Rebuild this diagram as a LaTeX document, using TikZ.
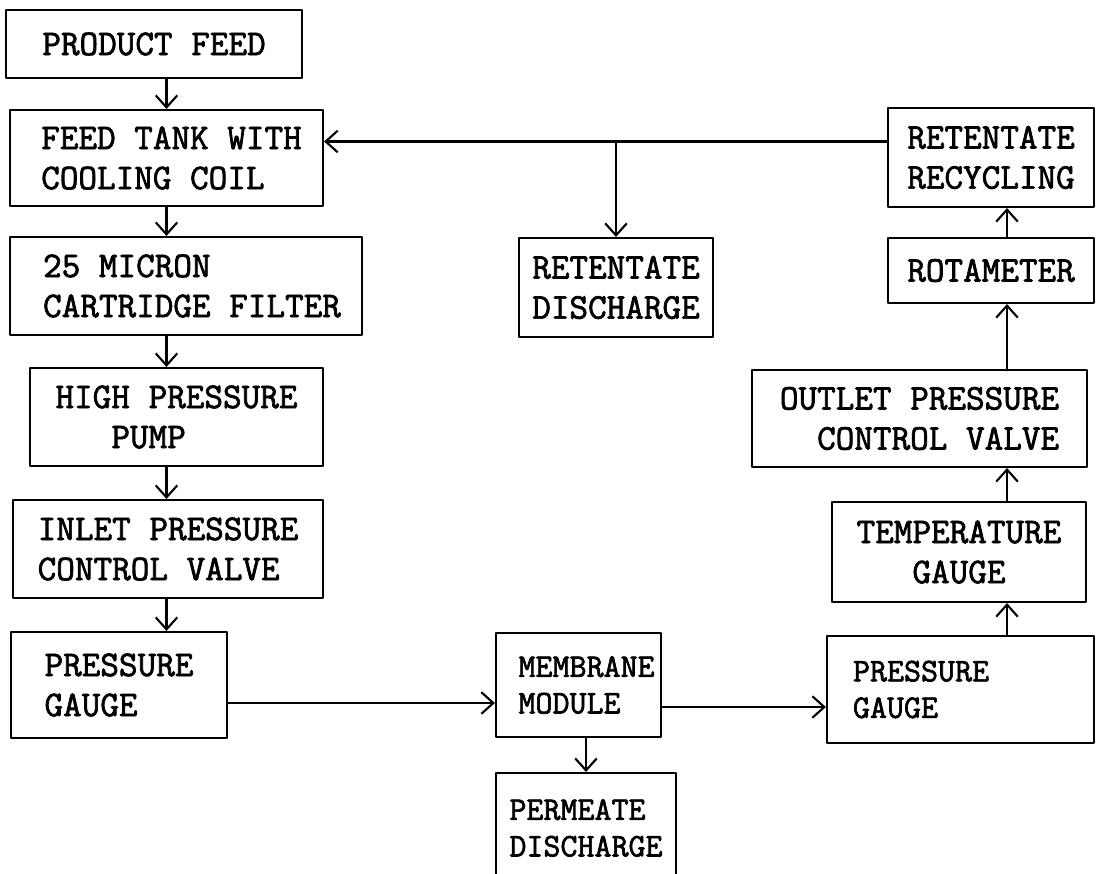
\documentclass[tikz,border=0pt]{standalone}
\usepackage{fontspec}
\newfontfamily\typewr[FakeBold=2]{Latin Modern Mono}
\usetikzlibrary{arrows.meta}
\begin{document}
\begin{tikzpicture}[x=0.025cm, y=-0.025cm, >={Straight Barb[length=3mm,width=5.4mm]},
    line join=round, line cap=round,
    box/.style={draw, line width=1.5pt, inner sep=0pt,
        font=\typewr\fontsize{25.7}{28.5}\selectfont},
    smallbox/.style={box, font=\typewr\fontsize{23.5}{26}\selectfont},
    flow/.style={->, line width=1.5pt}]
    \clip (0,0) rectangle (1096,873);
    % left column
    \node[box, minimum width=7.4cm, minimum height=1.7cm] (feed) at (154,44) {PRODUCT FEED};
    \node[box, align=left, minimum width=7.825cm, minimum height=2.4cm] (tank) at (166.5,158) {\hspace*{0.25cm}FEED TANK WITH\\\hspace*{0.25cm}COOLING COIL};
    \node[box, align=left, minimum width=8.8cm, minimum height=2.45cm] (filter) at (186,286) {\hspace*{0.3cm}25 MICRON\\\hspace*{0.3cm}CARTRIDGE FILTER};
    \node[box, align=left, minimum width=7.325cm, minimum height=2.45cm] (pump) at (176.5,417) {HIGH PRESSURE\\\phantom{HIG}PUMP};
    \node[box, align=left, minimum width=7.75cm, minimum height=2.45cm] (inlet) at (168,549) {INLET PRESSURE\\CONTROL VALVE};
    \node[box, align=left, minimum width=5.4cm, minimum height=2.65cm] (gaugeA) at (119,685) {PRESSURE\\GAUGE};
    % middle
    \node[smallbox, align=left, text width=3cm, minimum width=4.125cm, minimum height=2.6cm] (module) at (578.5,685) {MEMBRANE\\MODULE};
    \node[smallbox, align=left, minimum width=4.5cm, minimum height=2.75cm] (permeate) at (586,828) {PERMEATE\\DISCHARGE};
    \node[box, align=left, minimum width=4.85cm, minimum height=2.475cm] (discharge) at (616,287.5) {RETENTATE\\DISCHARGE};
    % right column
    \node[box, align=left, minimum width=5.15cm, minimum height=2.475cm] (recycle) at (991,157.5) {RETENTATE\\RECYCLING};
    \node[box, minimum width=5.15cm, minimum height=1.625cm] (rota) at (991,270.5) {ROTAMETER};
    \node[box, align=right, minimum width=8.375cm, minimum height=2.425cm] (outlet) at (919.5,418.5) {OUTLET PRESSURE\\CONTROL VALVE};
    \node[box, align=center, minimum width=6.35cm, minimum height=2.5cm] (temp) at (959,552) {TEMPERATURE\\GAUGE};
    \node[smallbox, align=left, text width=5.375cm, minimum width=6.675cm, minimum height=2.675cm] (gaugeB) at (960.5,689.5) {PRESSURE\\GAUGE};
    % connectors
    \draw[flow] (feed.south -| tank.north) -- (tank.north);
    \foreach \a/\b in {tank/filter, filter/pump, pump/inlet, inlet/gaugeA}
        \draw[flow] (\a.south -| tank.south) -- (\b.north -| tank.south);
    \coordinate (g1) at ([yshift=-0.45cm]gaugeA.east);
    \draw[flow] (g1) -- (g1 -| module.west);
    \coordinate (m1) at ([yshift=-0.55cm]module.east);
    \draw[flow] (m1) -- (m1 -| gaugeB.west);
    \draw[flow] (module.south -| permeate.north) -- (permeate.north);
    \coordinate (rx) at (1007,0);
    \foreach \a/\b in {gaugeB/temp, temp/outlet, outlet/rota, rota/recycle}
        \draw[flow] (\a.north -| rx) -- (\b.south -| rx);
    \coordinate (r1) at ([yshift=0.4cm]recycle.west);
    \draw[flow] (r1) -- (r1 -| tank.east);
    \draw[flow] (r1 -| discharge.north) -- (discharge.north);
\end{tikzpicture}
\end{document}
